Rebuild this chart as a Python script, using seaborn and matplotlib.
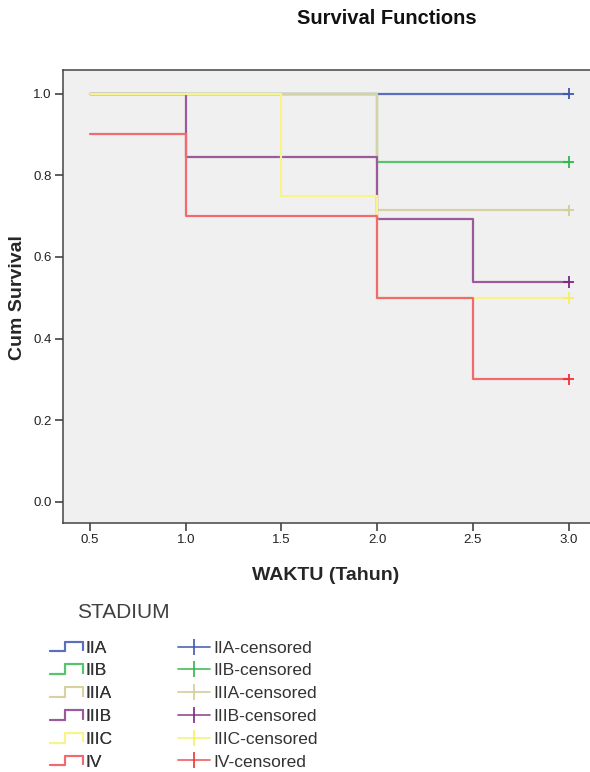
import numpy as np
import pandas as pd
import matplotlib
matplotlib.use("Agg")
import matplotlib.pyplot as plt
from matplotlib.lines import Line2D
from matplotlib.legend_handler import HandlerBase
import seaborn as sns

# ---- data ----
groups = ["IIA", "IIB", "IIIA", "IIIB", "IIIC", "IV"]
times_IIA = [0.5, 3.0]
surv_IIA = [1.0, 1.0]
times_IIB = [0.5, 2.0, 3.0]
surv_IIB = [1.0, 0.833, 0.833]
times_IIIA = [0.5, 2.0, 3.0]
surv_IIIA = [1.0, 0.714, 0.714]
times_IIIB = [0.5, 1.0, 2.0, 2.5, 3.0]
surv_IIIB = [1.0, 0.846, 0.692, 0.538, 0.538]
times_IIIC = [0.5, 1.5, 2.0, 3.0]
surv_IIIC = [1.0, 0.75, 0.5, 0.5]
times_IV = [0.5, 1.0, 2.0, 2.5, 3.0]
surv_IV = [0.9, 0.7, 0.5, 0.3, 0.3]
censor_time = [3.0, 3.0, 3.0, 3.0, 3.0, 3.0]
censor_surv = [1.0, 0.833, 0.714, 0.538, 0.5, 0.3]
x_ticks = [0.5, 1.0, 1.5, 2.0, 2.5, 3.0]
y_ticks = [0.0, 0.2, 0.4, 0.6, 0.8, 1.0]

line_colors = ["#5B6FBF", "#55C46A", "#D6D2A4", "#9A5A9B", "#F8F38A", "#F26A6E"]
mark_colors = ["#3E58AC", "#2EB848", "#D3CE97", "#7C287D", "#F5F060", "#EF3338"]
line_pal = dict(zip(groups, line_colors))
mark_pal = dict(zip(groups, mark_colors))

series = {
    "IIA": (times_IIA, surv_IIA),
    "IIB": (times_IIB, surv_IIB),
    "IIIA": (times_IIIA, surv_IIIA),
    "IIIB": (times_IIIB, surv_IIIB),
    "IIIC": (times_IIIC, surv_IIIC),
    "IV": (times_IV, surv_IV),
}
rows = []
for g in groups:
    t, s = series[g]
    for a, b in zip(t, s):
        rows.append({"STADIUM": g, "time": a, "surv": b})
df = pd.DataFrame(rows)
cens = pd.DataFrame({"STADIUM": groups, "time": censor_time, "surv": censor_surv})

sns.set_theme(style="white")
plt.rcParams["font.family"] = ["Liberation Sans", "DejaVu Sans"]

W, H = 590, 772
fig = plt.figure(figsize=(W / 100, H / 100), dpi=100)
L, R, T, B = 63, 590, 70, 523
ax = fig.add_axes([L / W, 1 - B / H, (R - L) / W, (B - T) / H])
ax.set_facecolor("#F0F0F0")

sns.lineplot(data=df, x="time", y="surv", hue="STADIUM", hue_order=groups,
             palette=line_pal, estimator=None, sort=False, units="STADIUM",
             drawstyle="steps-post", linewidth=1.6, ax=ax, legend=False)
sns.scatterplot(data=cens, x="time", y="surv", hue="STADIUM", hue_order=groups,
                palette=mark_pal, marker="+", s=70, linewidth=1.3, ax=ax,
                legend=False, zorder=5)

ax.set_xlim(0.359, 3.112)
ax.set_ylim(-0.052, 1.058)
ax.set_xticks(x_ticks)
ax.set_yticks(y_ticks)
ax.set_xticklabels([f"{v:.1f}" for v in x_ticks])
ax.set_yticklabels([f"{v:.1f}" for v in y_ticks])
ax.tick_params(axis="both", direction="out", length=6, width=1.1, color="#333333",
               labelsize=9.5, labelcolor="#222222", pad=2, left=True, bottom=True)
for sp in ax.spines.values():
    sp.set_color("#444444")
    sp.set_linewidth(1.1)
ax.spines["right"].set_visible(False)

ax.set_xlabel("WAKTU (Tahun)", fontsize=14, fontweight="bold", va="center")
ax.xaxis.set_label_coords(0.499, (B - 575) / (B - T))
ax.set_ylabel("Cum Survival", fontsize=14, fontweight="bold", va="center")
ax.yaxis.set_label_coords((17.5 - L) / (R - L), (B - 297.5) / (B - T))

fig.text(387 / W, 1 - 19 / H, "Survival Functions", ha="center", va="center",
         fontsize=14.5, fontweight="bold", color="#111111")


class StepHandler(HandlerBase):
    def create_artists(self, legend, orig_handle, xdescent, ydescent, width,
                       height, fontsize, trans):
        x0, y0 = -xdescent, -ydescent
        xs = [x0, x0 + 0.45 * width, x0 + 0.45 * width, x0 + width, x0 + width]
        ys = [y0 + 0.1 * height, y0 + 0.1 * height, y0 + 0.9 * height,
              y0 + 0.9 * height, y0 + 0.2 * height]
        ln = Line2D(xs, ys, color=orig_handle.get_color(), lw=1.5,
                    transform=trans)
        return [ln]


h1 = [Line2D([], [], color=line_pal[g]) for g in groups]
h2 = [Line2D([], [], color=line_pal[g], marker="|", markersize=11,
             markeredgewidth=1.2, markeredgecolor=mark_pal[g], lw=1.3)
      for g in groups]

fs = 12.5
leg1 = fig.legend(h1, groups, loc="center left",
                  bbox_to_anchor=(50 / W, 1 - 705 / H), frameon=False,
                  fontsize=fs, handlelength=1.9, handletextpad=0.12,
                  labelspacing=0.44, borderpad=0, borderaxespad=0,
                  handler_map={Line2D: StepHandler()})
for t in leg1.get_texts():
    t.set_color("#333333")
leg2 = fig.legend(h2, [g + "-censored" for g in groups], loc="center left",
                  bbox_to_anchor=(178 / W, 1 - 705 / H), frameon=False,
                  fontsize=fs, handlelength=1.85, handletextpad=0.2,
                  labelspacing=0.44, borderpad=0, borderaxespad=0)
for t in leg2.get_texts():
    t.set_color("#333333")
fig.add_artist(leg1)

fig.text(77 / W, 1 - 612 / H, "STADIUM", ha="left", va="center",
         fontsize=15, color="#404040")

fig.savefig("out.png", dpi=100)
